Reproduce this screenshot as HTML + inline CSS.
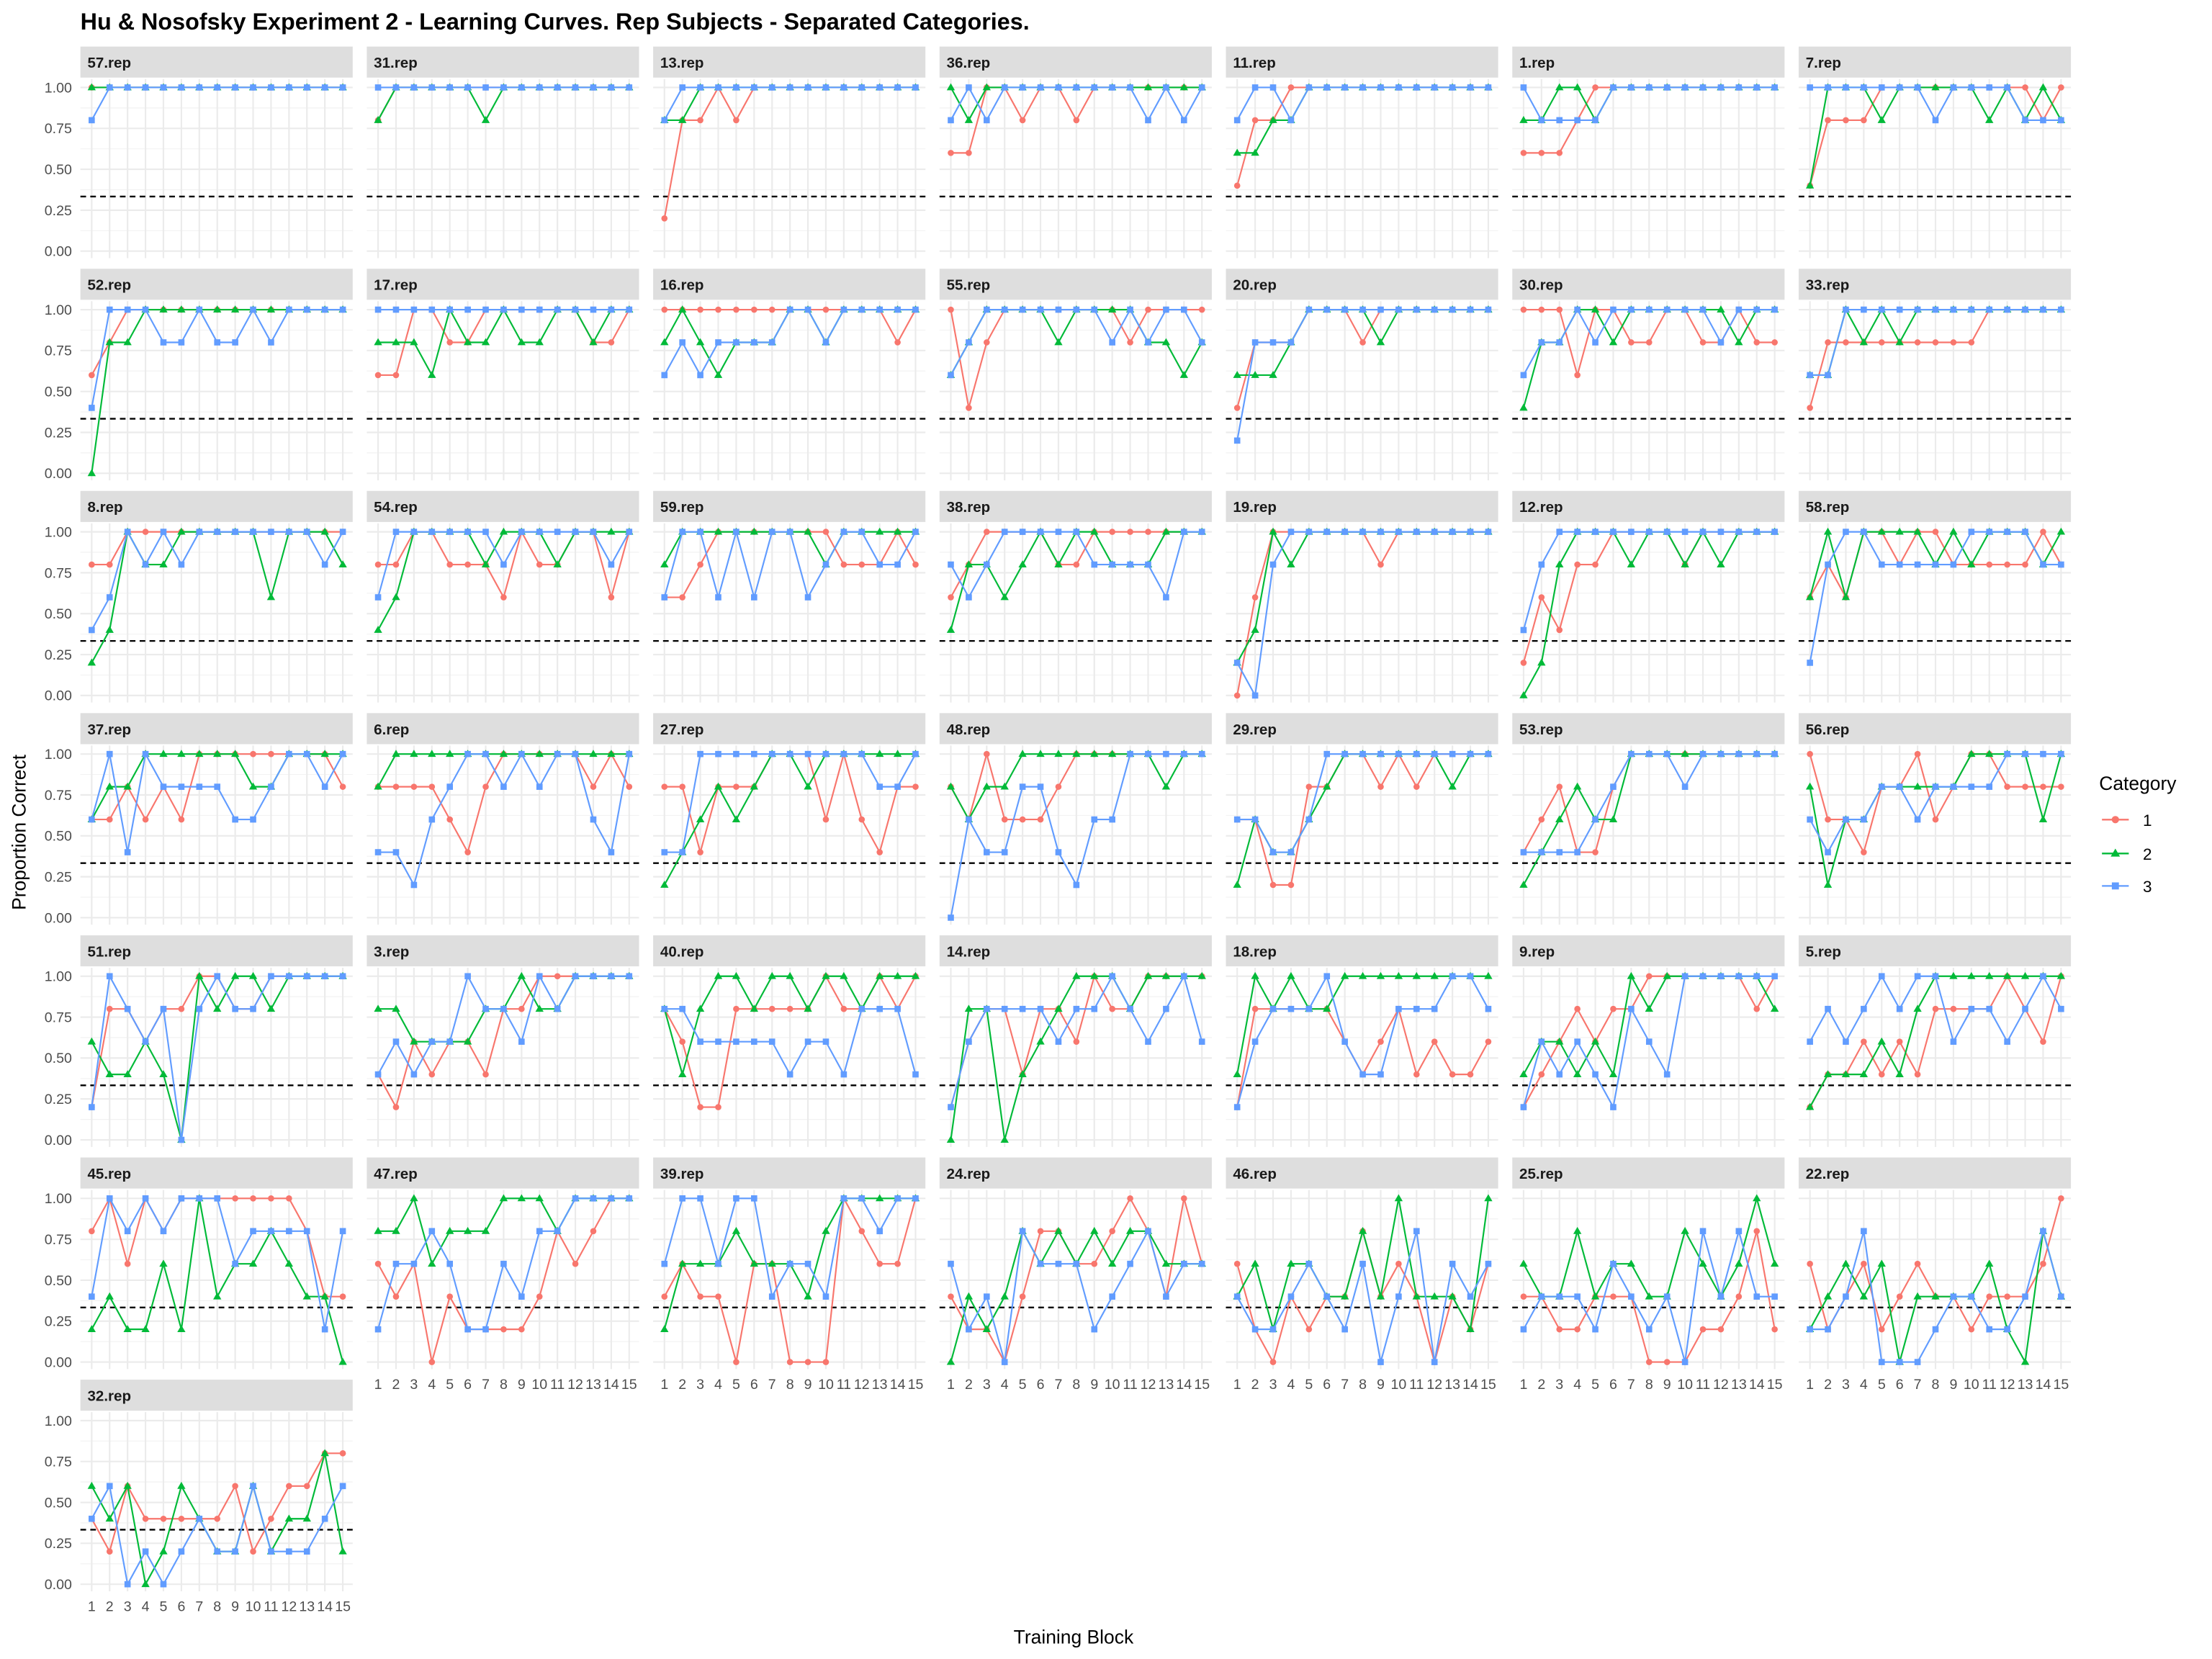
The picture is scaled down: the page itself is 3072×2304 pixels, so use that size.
<!DOCTYPE html>
<html><head><meta charset="utf-8"><style>
html,body{margin:0;padding:0;background:#fff;}
svg{display:block;font-family:"Liberation Sans",sans-serif;}
</style></head><body>
<svg id="chart" width="3072" height="2304" viewBox="0 0 1568 1176" xmlns="http://www.w3.org/2000/svg">
<rect width="1568" height="1176" fill="#fff"/>
<text x="57" y="21" font-size="16.5" font-weight="bold" fill="#000">Hu &amp; Nosofsky Experiment 2 - Learning Curves. Rep Subjects - Separated Categories.</text>
<text transform="translate(18,590) rotate(-90)" text-anchor="middle" font-size="13.5" fill="#000">Proportion Correct</text>
<text x="761" y="1165" text-anchor="middle" font-size="13.5" fill="#000">Training Block</text>
<g id="panels"></g>
<g>
<text x="1488" y="560" font-size="13.5" fill="#000">Category</text>
<g><line x1="1490" y1="581" x2="1509" y2="581" stroke="#F8766D" stroke-width="1.2"/><circle cx="1499.5" cy="581" r="2.6" fill="#F8766D"/><text x="1519" y="585.5" font-size="11.5">1</text></g>
<g><line x1="1490" y1="605" x2="1509" y2="605" stroke="#00BA38" stroke-width="1.2"/><path d="M1499.5,601.5 L1502.8,607.2 L1496.2,607.2 Z" fill="#00BA38"/><text x="1519" y="609.5" font-size="11.5">2</text></g>
<g><line x1="1490" y1="628" x2="1509" y2="628" stroke="#619CFF" stroke-width="1.2"/><rect x="1497" y="625.5" width="5" height="5" fill="#619CFF"/><text x="1519" y="632.5" font-size="11.5">3</text></g>
</g>
</svg>
<script>
const subjects = ["57","31","13","36","11","1","7","52","17","16","55","20","30","33","8","54","59","38","19","12","58","37","6","27","48","29","53","56","51","3","40","14","18","9","5","45","47","39","24","46","25","22","32"];
const blocks = [1,2,3,4,5,6,7,8,9,10,11,12,13,14,15];
const yTicks = [0,0.25,0.5,0.75,1];
const yTickLabels = ["0.00","0.25","0.50","0.75","1.00"];
const chance = 1/3;
// values in fifths (0..5) -> proportion = v/5
const cat1 = [
[5,5,5,5,5,5,5,5,5,5,5,5,5,5,5],[4,5,5,5,5,5,5,5,5,5,5,5,5,5,5],[1,4,4,5,4,5,5,5,5,5,5,5,5,5,5],[3,3,5,5,4,5,5,4,5,5,5,5,5,5,5],[2,4,4,5,5,5,5,5,5,5,5,5,5,5,5],[3,3,3,4,5,5,5,5,5,5,5,5,5,5,5],[2,4,4,4,5,5,5,5,5,5,5,5,5,4,5],
[3,4,5,5,5,5,5,5,5,5,5,5,5,5,5],[3,3,5,5,4,4,5,5,5,5,5,5,4,4,5],[5,5,5,5,5,5,5,5,5,5,5,5,5,4,5],[5,2,4,5,5,5,5,5,5,5,4,5,5,5,5],[2,4,4,4,5,5,5,4,5,5,5,5,5,5,5],[5,5,5,3,5,5,4,4,5,5,4,4,5,4,4],[2,4,4,4,4,4,4,4,4,4,5,5,5,5,5],
[4,4,5,5,5,5,5,5,5,5,5,5,5,5,5],[4,4,5,5,4,4,4,3,5,4,4,5,5,3,5],[3,3,4,5,5,5,5,5,5,5,4,4,4,5,4],[3,4,5,5,5,5,4,4,5,5,5,5,5,5,5],[0,3,5,5,5,5,5,5,4,5,5,5,5,5,5],[1,3,2,4,4,5,5,5,5,4,5,5,5,5,5],[3,4,3,5,5,4,5,5,4,4,4,4,4,5,4],
[3,3,4,3,4,3,5,5,5,5,5,5,5,5,4],[4,4,4,4,3,2,4,5,5,5,5,5,4,5,4],[4,4,2,4,4,4,5,5,5,3,5,3,2,4,4],[4,3,5,3,3,3,4,5,5,5,5,5,5,5,5],[3,3,1,1,4,4,5,5,4,5,4,5,5,5,5],[2,3,4,2,2,4,5,5,5,5,5,5,5,5,5],[5,3,3,2,4,4,5,3,4,5,5,4,4,4,4],
[1,4,4,3,4,4,5,5,4,4,5,5,5,5,5],[2,1,3,2,3,3,2,4,4,5,5,5,5,5,5],[4,3,1,1,4,4,4,4,4,5,4,4,5,4,5],[1,3,4,4,2,4,4,3,5,4,4,5,5,5,5],[1,4,4,4,4,4,3,2,3,4,2,3,2,2,3],[1,2,3,4,3,4,4,5,5,5,5,5,5,4,5],[1,2,2,3,2,3,2,4,4,4,4,5,4,3,5],
[4,5,3,5,4,5,5,5,5,5,5,5,4,2,2],[3,2,3,0,2,1,1,1,1,2,4,3,4,5,5],[2,3,2,2,0,3,3,0,0,0,5,4,3,3,5],[2,1,1,0,2,4,4,3,3,4,5,4,2,5,3],[3,1,0,2,1,2,2,4,2,3,2,0,2,1,3],[2,2,1,1,2,2,2,0,0,0,1,1,2,4,1],[3,1,2,3,1,2,3,2,2,1,2,2,2,3,5],
[2,1,3,2,2,2,2,2,3,1,2,3,3,4,4]];
const cat2 = [
[5,5,5,5,5,5,5,5,5,5,5,5,5,5,5],[4,5,5,5,5,5,4,5,5,5,5,5,5,5,5],[4,4,5,5,5,5,5,5,5,5,5,5,5,5,5],[5,4,5,5,5,5,5,5,5,5,5,5,5,5,5],[3,3,4,4,5,5,5,5,5,5,5,5,5,5,5],[4,4,5,5,4,5,5,5,5,5,5,5,5,5,5],[2,5,5,5,4,5,5,5,5,5,4,5,4,5,4],
[0,4,4,5,5,5,5,5,5,5,5,5,5,5,5],[4,4,4,3,5,4,4,5,4,4,5,5,4,5,5],[4,5,4,3,4,4,4,5,5,4,5,5,5,5,5],[3,4,5,5,5,5,4,5,5,5,5,4,4,3,4],[3,3,3,4,5,5,5,5,4,5,5,5,5,5,5],[2,4,4,5,5,4,5,5,5,5,5,5,4,5,5],[3,3,5,4,5,4,5,5,5,5,5,5,5,5,5],
[1,2,5,4,4,5,5,5,5,5,3,5,5,5,4],[2,3,5,5,5,5,4,5,5,5,4,5,5,5,5],[4,5,5,5,5,5,5,5,5,4,5,5,5,5,5],[2,4,4,3,4,5,4,5,5,4,4,4,5,5,5],[1,2,5,4,5,5,5,5,5,5,5,5,5,5,5],[0,1,4,5,5,5,4,5,5,4,5,4,5,5,5],[3,5,3,5,5,5,5,4,5,4,5,5,5,4,5],
[3,4,4,5,5,5,5,5,5,4,4,5,5,5,5],[4,5,5,5,5,5,5,5,5,5,5,5,5,5,5],[1,2,3,4,3,4,5,5,4,5,5,5,5,5,5],[4,3,4,4,5,5,5,5,5,5,5,5,4,5,5],[1,3,2,2,3,4,5,5,5,5,5,5,4,5,5],[1,2,3,4,3,3,5,5,5,5,5,5,5,5,5],[4,1,3,3,4,4,4,4,4,5,5,5,5,3,5],
[3,2,2,3,2,0,5,4,5,5,4,5,5,5,5],[4,4,3,3,3,3,4,4,5,4,4,5,5,5,5],[4,2,4,5,5,4,5,5,4,5,5,4,5,5,5],[0,4,4,0,2,3,4,5,5,5,4,5,5,5,5],[2,5,4,5,4,4,5,5,5,5,5,5,5,5,5],[2,3,3,2,3,2,5,4,5,5,5,5,5,5,4],[1,2,2,2,3,2,4,5,5,5,5,5,5,5,5],
[1,2,1,1,3,1,5,2,3,3,4,3,2,2,0],[4,4,5,3,4,4,4,5,5,5,4,5,5,5,5],[1,3,3,3,4,3,3,3,2,4,5,5,5,5,5],[0,2,1,2,4,3,4,3,4,3,4,4,3,3,3],[2,3,1,3,3,2,2,4,2,5,2,2,2,1,5],[3,2,2,4,2,3,3,2,2,4,3,2,3,5,3],[1,2,3,2,3,0,2,2,2,2,3,1,0,4,2],
[3,2,3,0,1,3,2,1,1,3,1,2,2,4,1]];
const cat3 = [
[4,5,5,5,5,5,5,5,5,5,5,5,5,5,5],[5,5,5,5,5,5,5,5,5,5,5,5,5,5,5],[4,5,5,5,5,5,5,5,5,5,5,5,5,5,5],[4,5,4,5,5,5,5,5,5,5,5,4,5,4,5],[4,5,5,4,5,5,5,5,5,5,5,5,5,5,5],[5,4,4,4,4,5,5,5,5,5,5,5,5,5,5],[5,5,5,5,5,5,5,4,5,5,5,5,4,4,4],
[2,5,5,5,4,4,5,4,4,5,4,5,5,5,5],[5,5,5,5,5,5,5,5,5,5,5,5,5,5,5],[3,4,3,4,4,4,4,5,5,4,5,5,5,5,5],[3,4,5,5,5,5,5,5,5,4,5,4,5,5,4],[1,4,4,4,5,5,5,5,5,5,5,5,5,5,5],[3,4,4,5,4,5,5,5,5,5,5,4,5,5,5],[3,3,5,5,5,5,5,5,5,5,5,5,5,5,5],
[2,3,5,4,5,4,5,5,5,5,5,5,5,4,5],[3,5,5,5,5,5,5,4,5,5,5,5,5,4,5],[3,5,5,3,5,3,5,5,3,4,5,5,4,4,5],[4,3,4,5,5,5,5,5,4,4,4,4,3,5,5],[1,0,4,5,5,5,5,5,5,5,5,5,5,5,5],[2,4,5,5,5,5,5,5,5,5,5,5,5,5,5],[1,4,5,5,4,4,4,4,4,5,5,5,5,4,4],
[3,5,2,5,4,4,4,4,3,3,4,5,5,4,5],[2,2,1,3,4,5,5,4,5,4,5,5,3,2,5],[2,2,5,5,5,5,5,5,5,5,5,5,4,4,5],[0,3,2,2,4,4,2,1,3,3,5,5,5,5,5],[3,3,2,2,3,5,5,5,5,5,5,5,5,5,5],[2,2,2,2,3,4,5,5,5,4,5,5,5,5,5],[3,2,3,3,4,4,3,4,4,4,4,5,5,5,5],
[1,5,4,3,4,0,4,5,4,4,5,5,5,5,5],[2,3,2,3,3,5,4,4,3,5,4,5,5,5,5],[4,4,3,3,3,3,3,2,3,3,2,4,4,4,2],[1,3,4,4,4,4,3,4,4,5,4,3,4,5,3],[1,3,4,4,4,5,3,2,2,4,4,4,5,5,4],[1,3,2,3,2,1,4,3,2,5,5,5,5,5,5],[3,4,3,4,5,4,5,5,3,4,4,3,4,5,4],
[2,5,4,5,4,5,5,5,3,4,4,4,4,1,4],[1,3,3,4,3,1,1,3,2,4,4,5,5,5,5],[3,5,5,3,5,5,2,3,3,2,5,5,4,5,5],[3,1,2,0,4,3,3,3,1,2,3,4,2,3,3],[2,1,1,2,3,2,1,3,0,2,4,0,3,2,3],[1,2,2,2,1,3,2,1,2,0,4,2,4,2,2],[1,1,2,4,0,0,0,1,2,2,1,1,2,4,2],
[2,3,0,1,0,1,2,1,1,3,1,1,1,2,3]];

const NS = "http://www.w3.org/2000/svg";
const root = document.getElementById("panels");
function mk(tag, attrs, parent){const e=document.createElementNS(NS,tag);for(const k in attrs)e.setAttribute(k,attrs[k]);parent.appendChild(e);return e;}
const colors = ["#F8766D","#00BA38","#619CFF"];
const series = [cat1,cat2,cat3];
const nCols = 7;
subjects.forEach((s, idx) => {
  const r = Math.floor(idx / nCols), c = idx % nCols;
  const x0 = 57 + c*203, w = 193, y0 = 33 + r*157.5;
  const xs = b => x0 + 8 + (b-1)*(178/14);
  const ys = v => y0 + 145 - v*116;
  const g = mk("g", {}, root);
  
  
  const strip = mk("rect", {x:x0, y:y0, width:w, height:22, fill:"#dedede"}, g);
  
  
  const st = mk("text", {x:x0+5, y:y0+15, "font-size":"10.5", "font-weight":"bold", fill:"#1a1a1a"}, g);
  st.textContent = s + ".rep";
  
  
  const top = y0+23, bot = y0+150;
  for (let k=0;k<4;k++){ const v=0.125+k*0.25; mk("line",{x1:x0,x2:x0+w,y1:ys(v),y2:ys(v),stroke:"#f2f2f2","stroke-width":"0.6"},g); }
  yTicks.forEach(v => mk("line",{x1:x0,x2:x0+w,y1:ys(v),y2:ys(v),stroke:"#ebebeb","stroke-width":"1.1"},g));
  blocks.forEach(b => mk("line",{x1:xs(b),x2:xs(b),y1:top,y2:bot,stroke:"#ebebeb","stroke-width":"1.1"},g));
  const dl = mk("line",{x1:x0,x2:x0+w,y1:ys(chance),y2:ys(chance),stroke:"#000","stroke-width":"1.2","stroke-dasharray":"4,3"},g);
  
  
  if (c === 0) {
    yTicks.forEach((v,i) => { const t = mk("text",{x:x0-6,y:ys(v)+3.5,"text-anchor":"end","font-size":"10",fill:"#4d4d4d"},g); t.textContent = yTickLabels[i];
      
       });
  }
  const lastRow = Math.floor((subjects.length-1)/nCols);
  if (r === lastRow || (r === lastRow-1 && c > (subjects.length-1)%nCols)) {
    blocks.forEach(b => { const t = mk("text",{x:xs(b),y:bot+14,"text-anchor":"middle","font-size":"10",fill:"#4d4d4d"},g); t.textContent = b;
      
       });
  }
  series.forEach((ser, si) => {
    const vals = ser[idx].map(v => v/5);
    const pts = vals.map((v,i) => xs(blocks[i]).toFixed(2)+","+ys(v).toFixed(2)).join(" ");
    const pl = mk("polyline",{points:pts,fill:"none",stroke:colors[si],"stroke-width":"1.1"},g);
    
    
    vals.forEach((v,i) => {
      const X = xs(blocks[i]), Y = ys(v);
      let m;
      if (si===0) m = mk("circle",{cx:X,cy:Y,r:2.2,fill:colors[0]},g);
      else if (si===1) m = mk("path",{d:`M${X},${Y-3} L${X+2.9},${Y+2} L${X-2.9},${Y+2} Z`,fill:colors[1]},g);
      else m = mk("rect",{x:X-2.2,y:Y-2.2,width:4.4,height:4.4,fill:colors[2]},g);
      
      
    });
  });
});
</script>
</body></html>
